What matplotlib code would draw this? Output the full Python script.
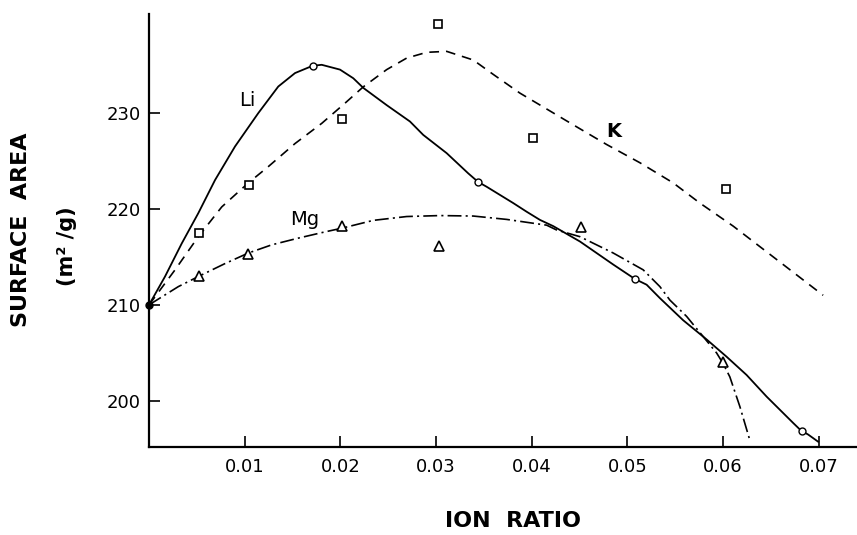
import matplotlib
matplotlib.use("Agg")
import matplotlib.pyplot as plt

plt.rcParams['font.family'] = ['DejaVu Sans']
plt.rcParams['lines.scale_dashes'] = False

# measured points
li_x = [0.0, 0.0171, 0.0344, 0.0508, 0.0682]
li_y = [210.0, 234.9, 222.8, 212.7, 196.9]

k_x = [0.0052, 0.0104, 0.0202, 0.0302, 0.0401, 0.0603]
k_y = [217.5, 222.5, 229.4, 239.2, 227.4, 222.1]

mg_x = [0.0052, 0.0103, 0.0202, 0.0303, 0.0452, 0.0600]
mg_y = [213.0, 215.3, 218.2, 216.1, 218.1, 204.0]

# hand drawn curves
li_cx = [0.0, 0.00167, 0.00342, 0.00515, 0.0069, 0.00899, 0.01142, 0.01351,
         0.01526, 0.0171, 0.01805, 0.01996, 0.02135, 0.02239, 0.02484, 0.02727,
         0.02866, 0.03111, 0.03336, 0.0344, 0.03529, 0.03807, 0.03947, 0.04086,
         0.04225, 0.04504, 0.04852, 0.05078, 0.05201, 0.0534, 0.05583, 0.05828,
         0.06037, 0.06246, 0.06455, 0.06733, 0.06816, 0.06889, 0.06994]
li_cy = [210.0, 212.95, 216.4, 219.55, 223.0, 226.5, 229.97, 232.74,
         234.14, 234.9, 235.0, 234.5, 233.6, 232.6, 230.8, 229.1,
         227.7, 225.8, 223.7, 222.8, 222.3, 220.6, 219.7, 218.85,
         218.2, 216.6, 214.2, 212.7, 212.1, 210.7, 208.4, 206.4,
         204.6, 202.7, 200.45, 197.7, 196.9, 196.5, 195.75]

k_cx = [0.0, 0.00272, 0.00515, 0.0076, 0.01038, 0.01247, 0.01526, 0.01805,
        0.02048, 0.02239, 0.02484, 0.02693, 0.02902, 0.03111, 0.03389, 0.03598,
        0.03877, 0.04156, 0.04434, 0.04783, 0.05131, 0.05479, 0.05758, 0.06106,
        0.06524, 0.07046]
k_cy = [210.0, 213.65, 217.1, 220.2, 222.7, 224.4, 226.8, 228.9,
        231.0, 232.7, 234.5, 235.7, 236.3, 236.4, 235.5, 234.0,
        232.05, 230.4, 228.75, 226.7, 224.8, 222.7, 220.6, 218.2,
        215.0, 211.0]

mg_cx = [0.0, 0.00306, 0.00515, 0.00794, 0.01038, 0.01282, 0.0156, 0.01839,
         0.02022, 0.02344, 0.02693, 0.03041, 0.03389, 0.03738, 0.04016, 0.04156,
         0.0426, 0.04504, 0.04852, 0.05165, 0.0534, 0.05444, 0.05619, 0.05792,
         0.05932, 0.06, 0.06071, 0.06176, 0.0628]
mg_cy = [210.0, 211.9, 212.95, 214.3, 215.4, 216.25, 216.95, 217.6,
         218.0, 218.8, 219.2, 219.3, 219.25, 218.9, 218.5, 218.3,
         217.8, 217.1, 215.4, 213.65, 211.9, 210.5, 208.8, 206.7,
         205.0, 203.9, 202.5, 199.4, 195.9]

xticks = [0.01, 0.02, 0.03, 0.04, 0.05, 0.06, 0.07]
xtick_labels = ['0.01', '0.02', '0.03', '0.04', '0.05', '0.06', '0.07']
yticks = [200, 210, 220, 230]

fig = plt.figure(figsize=(8.57, 5.35), dpi=100)
ax = fig.add_axes([0.1739, 0.1645, 0.8261, 0.8095])

ax.plot(li_cx, li_cy, color='black', lw=1.3, ls='-')
ax.plot(k_cx, k_cy, color='black', lw=1.2, ls=(0, (7, 5)))
ax.plot(mg_cx, mg_cy, color='black', lw=1.2, ls=(0, (10, 3, 1.5, 3)))

ax.plot(li_x[1:], li_y[1:], ls='none', marker='o', ms=5, mfc='white',
        mec='black', mew=1.0, zorder=3)
ax.plot(k_x, k_y, ls='none', marker='s', ms=6, mfc='white',
        mec='black', mew=1.2, zorder=3)
ax.plot(mg_x, mg_y, ls='none', marker='^', ms=7, mfc='white',
        mec='black', mew=1.2, zorder=3)
ax.plot([0.0], [210.0], ls='none', marker='o', ms=5, color='black',
        zorder=4, clip_on=False)

ax.text(0.0103, 231.3, 'Li', fontsize=14, ha='center', va='center')
ax.text(0.0163, 218.9, 'Mg', fontsize=14, ha='center', va='center')
ax.text(0.0486, 228.1, 'K', fontsize=14, fontweight='bold', ha='center', va='center')

ax.set_xlim(0, 0.074)
ax.set_ylim(195.2, 240.3)
ax.set_xticks(xticks)
ax.set_xticklabels(xtick_labels)
ax.set_yticks(yticks)
ax.tick_params(direction='in', length=8, width=1.2, labelsize=13, pad=8)
ax.tick_params(axis='y', pad=6)
for side in ['top', 'right']:
    ax.spines[side].set_visible(False)
for side in ['left', 'bottom']:
    ax.spines[side].set_linewidth(1.6)

fig.text(0.0245, 0.570, 'SURFACE  AREA', rotation=90, fontsize=16,
         fontweight='bold', ha='center', va='center')
fig.text(0.078, 0.540, '(m² /g)', rotation=90, fontsize=15,
         fontweight='bold', ha='center', va='center')
fig.text(0.599, 0.026, 'ION  RATIO', fontsize=16, fontweight='bold',
         ha='center', va='center')

fig.savefig('out.png', dpi=100)
